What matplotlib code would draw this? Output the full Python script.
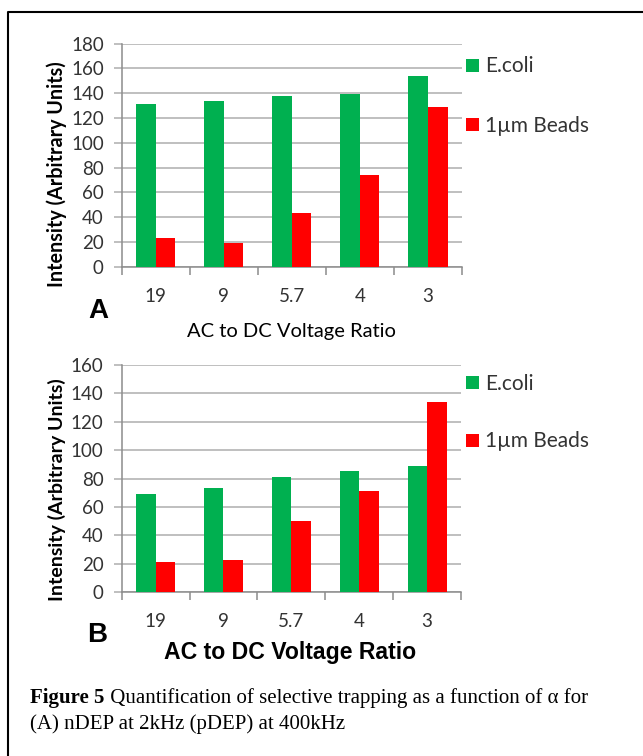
import matplotlib
matplotlib.use('Agg')
import matplotlib.pyplot as plt
from matplotlib import font_manager
from matplotlib.lines import Line2D
from matplotlib.patches import Patch

# values
ratios = ["19", "9", "5.7", "4", "3"]
ecoli_a = [131, 134, 138, 139, 154]
beads_a = [23, 19.5, 43, 74, 129]
ecoli_b = [69, 73, 81, 85, 89]
beads_b = [21, 23, 50, 71, 134]
series_names = ["E.coli", "1\u00b5m Beads"]
caption_bold = "Figure 5"
caption_rest = " Quantification of selective trapping as a function of \u03b1 for"
caption_line2 = "(A) nDEP at 2kHz (pDEP) at 400kHz"

GREEN = '#00B050'
RED = '#FF0000'
GRID = '#ADADAD'
AXIS = '#8C8C8C'
TEXT = '#333333'

W, H = 643, 756
installed = {f.name for f in font_manager.fontManager.ttflist}
SANS = ['Lato', 'DejaVu Sans'] if 'Lato' in installed else ['DejaVu Sans']
SERIF = 'Liberation Serif'


def fx(x):
    return x / W


def fy(y):
    return 1 - y / H


def panel(fig, box, ecoli, beads, ymax, legend_y, spacing):
    left, top, right, bottom = box
    ax = fig.add_axes([fx(left), fy(bottom), (right - left) / W, (bottom - top) / H])
    x = range(len(ratios))
    w = 0.287
    ax.bar([i - w / 2 for i in x], ecoli, w, color=GREEN, zorder=3)
    ax.bar([i + w / 2 for i in x], beads, w, color=RED, zorder=3)
    ax.set_xlim(-0.5, len(ratios) - 0.5)
    ax.set_ylim(0, ymax)
    ax.set_yticks(range(0, ymax + 1, 20))
    ax.yaxis.grid(True, color=GRID, lw=1.1, zorder=0)
    ax.set_xticks(list(x))
    ax.set_xticklabels(ratios)
    ax.set_xticks([i - 0.5 for i in range(len(ratios) + 1)], minor=True)
    ax.tick_params(axis='x', which='major', length=0, pad=15, labelsize=13.5, labelcolor=TEXT)
    ax.tick_params(axis='x', which='minor', length=6, width=1.1, color=AXIS, direction='out')
    ax.tick_params(axis='y', length=6, width=1.1, color=GRID, pad=7, labelsize=13.5, labelcolor=TEXT)
    for lab in ax.get_xticklabels() + ax.get_yticklabels():
        lab.set_family(SANS)
    for s in ('top', 'right'):
        ax.spines[s].set_visible(False)
    for s in ('left', 'bottom'):
        ax.spines[s].set_color(AXIS)
        ax.spines[s].set_linewidth(1.1)
    handles = [Patch(facecolor=GREEN), Patch(facecolor=RED)]
    ax.legend(handles, series_names, loc='upper left',
              bbox_to_anchor=(fx(466), fy(legend_y)), bbox_transform=fig.transFigure,
              frameon=False, handlelength=0.6, handleheight=0.6, handletextpad=0.3,
              borderpad=0, borderaxespad=0, labelspacing=spacing,
              prop={'family': SANS, 'size': 15}, labelcolor=TEXT)
    return ax


fig = plt.figure(figsize=(W / 100, H / 100), dpi=100)

# frame around the figure (open on the right and bottom edges of the crop)
fig.add_artist(Line2D([fx(8), fx(8), 1.0], [0, fy(12), fy(12)],
                      transform=fig.transFigure, color='black', lw=1.5))

panel(fig, (121.8, 43.7, 462, 266.7), ecoli_a, beads_a, 180, 56.5, 1.9)
panel(fig, (121.7, 364.7, 461, 592.3), ecoli_b, beads_b, 160, 374, 1.8)

ylab = "Intensity (Arbitrary Units)"
fig.text(fx(57), fy(174), ylab, rotation=90, ha='center', va='center',
         family=SANS, fontweight='bold', fontsize=14.2)
fig.text(fx(57), fy(490), ylab, rotation=90, ha='center', va='center',
         family=SANS, fontweight='bold', fontsize=14)

fig.text(fx(98), fy(311), "A", ha='center', va='center', family='Liberation Sans',
         fontweight='bold', fontsize=20)
fig.text(fx(97.5), fy(635), "B", ha='center', va='center', family='Liberation Sans',
         fontweight='bold', fontsize=20)

fig.text(fx(291), fy(331), "AC to DC Voltage Ratio", ha='center', va='center',
         family=SANS, fontsize=14.5)
fig.text(fx(290.5), fy(653), "AC to DC Voltage Ratio", ha='center', va='center',
         family='Liberation Sans', fontweight='bold', fontsize=16.6)

# caption: bold lead-in followed by regular text
cap1 = fig.text(fx(30.5), fy(698), caption_bold, ha='left', va='center',
                family=SERIF, fontweight='bold', fontsize=15)
fig.canvas.draw()
bb = cap1.get_window_extent()
fig.text(bb.x1 / W, fy(698), caption_rest, ha='left', va='center',
         family=SERIF, fontsize=15)
fig.text(fx(30.5), fy(724), caption_line2, ha='left', va='center',
         family=SERIF, fontsize=15)

fig.savefig('out.png', dpi=100)
